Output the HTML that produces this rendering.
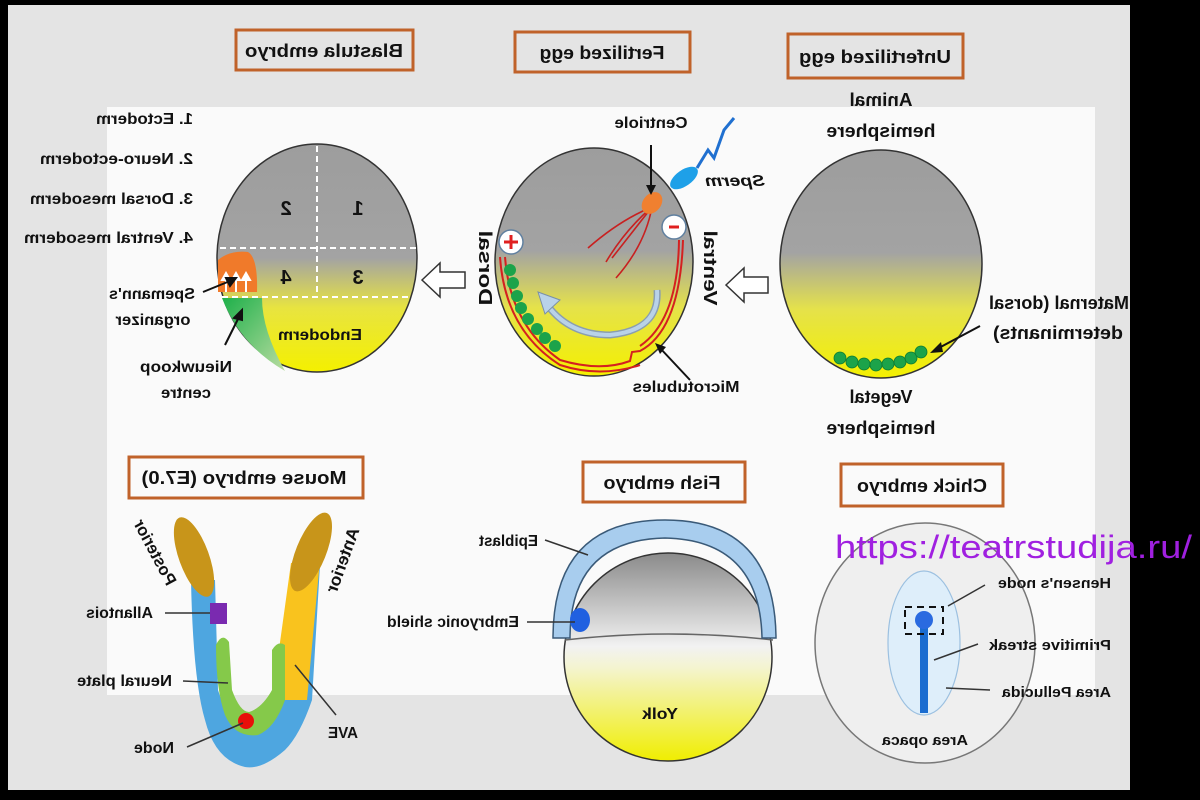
<!DOCTYPE html>
<html><head><meta charset="utf-8"><style>
html,body{margin:0;padding:0;background:#000;}
svg{display:block;}
text{font-family:"Liberation Sans",sans-serif;fill:#111;font-weight:bold;}
</style></head><body>
<svg width="1200" height="800" viewBox="0 0 1200 800" xmlns="http://www.w3.org/2000/svg">
<defs>
<linearGradient id="gy" x1="0" y1="0" x2="0" y2="1">
<stop offset="0" stop-color="#9d9d9d"/><stop offset="0.5" stop-color="#a3a3a3"/><stop offset="0.72" stop-color="#e8e440"/><stop offset="1" stop-color="#f4f000"/>
</linearGradient>
<linearGradient id="gy2" x1="0" y1="0" x2="0" y2="1">
<stop offset="0" stop-color="#9d9d9d"/><stop offset="0.45" stop-color="#a3a3a3"/><stop offset="0.7" stop-color="#e5e24a"/><stop offset="1" stop-color="#f4f000"/>
</linearGradient>
<linearGradient id="gf" x1="0" y1="0" x2="0" y2="1">
<stop offset="0" stop-color="#8a8a8a"/><stop offset="0.45" stop-color="#f2f2f2"/><stop offset="0.55" stop-color="#f4f4d0"/><stop offset="1" stop-color="#f0ee00"/>
</linearGradient>
<linearGradient id="gn" x1="0" y1="0" x2="1" y2="1">
<stop offset="0" stop-color="#1eb04a"/><stop offset="1" stop-color="#b8dca0"/>
</linearGradient>
</defs>
<rect width="1200" height="800" fill="#000"/>
<rect x="8" y="5" width="1122" height="785" fill="#e4e4e4"/>
<rect x="107" y="107" width="988" height="588" fill="#fafafa"/>

<!-- title boxes -->
<g fill="none" stroke="#c0622a" stroke-width="3">
<rect x="236" y="30" width="177" height="40"/>
<rect x="515" y="32" width="175" height="40"/>
<rect x="788" y="34" width="175" height="44"/>
<rect x="129" y="457" width="234" height="41"/>
<rect x="583" y="462" width="162" height="40"/>
<rect x="841" y="464" width="162" height="42"/>
</g>
<g font-size="18" text-anchor="middle">
<text transform="translate(324,57) scale(-1,1)" textLength="158" lengthAdjust="spacingAndGlyphs">Blastula embryo</text>
<text transform="translate(602,59) scale(-1,1)" textLength="125" lengthAdjust="spacingAndGlyphs">Fertilized egg</text>
<text transform="translate(875,63) scale(-1,1)" textLength="152" lengthAdjust="spacingAndGlyphs">Unfertilized egg</text>
<text transform="translate(244,484) scale(-1,1)" textLength="205" lengthAdjust="spacingAndGlyphs">Mouse embryo (E7.0)</text>
<text transform="translate(662,489) scale(-1,1)" textLength="117" lengthAdjust="spacingAndGlyphs">Fish embryo</text>
<text transform="translate(922,492) scale(-1,1)" textLength="130" lengthAdjust="spacingAndGlyphs">Chick embryo</text>
</g>

<!-- Blastula -->
<g font-size="16">
<text transform="translate(193,124) scale(-1,1)" textLength="97" lengthAdjust="spacingAndGlyphs">1. Ectoderm</text>
<text transform="translate(193,164) scale(-1,1)" textLength="153" lengthAdjust="spacingAndGlyphs">2. Neuro-ectoderm</text>
<text transform="translate(193,204) scale(-1,1)" textLength="163" lengthAdjust="spacingAndGlyphs">3. Dorsal mesoderm</text>
<text transform="translate(193,243) scale(-1,1)" textLength="169" lengthAdjust="spacingAndGlyphs">4. Ventral mesoderm</text>
</g>
<ellipse cx="317" cy="258" rx="100" ry="114" fill="url(#gy)" stroke="#333" stroke-width="1.5"/>
<path d="M222,298 Q240,345 285,371 Q262,330 262,298 Z" fill="url(#gn)"/>
<path d="M218,292 L218,260 Q230,250 248,252 Q258,258 257,292 Z" fill="#f07a2a"/>
<g stroke="#fff" stroke-width="2" fill="#fff">
<line x1="226" y1="292" x2="226" y2="278"/><line x1="236" y1="292" x2="236" y2="278"/><line x1="246" y1="292" x2="246" y2="278"/>
<path d="M222,280 L226,273 L230,280Z M232,280 L236,273 L240,280Z M242,280 L246,273 L250,280Z"/>
</g>
<g stroke="#fff" stroke-width="2" stroke-dasharray="6,4" fill="none">
<line x1="317" y1="146" x2="317" y2="295"/>
<line x1="220" y1="248" x2="416" y2="248"/>
<line x1="222" y1="297" x2="412" y2="297"/>
</g>
<g font-size="20" text-anchor="middle">
<text transform="translate(358,215) scale(-1,1)">1</text>
<text transform="translate(286,215) scale(-1,1)">2</text>
<text transform="translate(358,284) scale(-1,1)">3</text>
<text transform="translate(286,284) scale(-1,1)">4</text>
</g>
<g font-size="16" text-anchor="middle">
<text transform="translate(320,340) scale(-1,1)" textLength="84" lengthAdjust="spacingAndGlyphs">Endoderm</text>
<text transform="translate(152,299) scale(-1,1)" textLength="86" lengthAdjust="spacingAndGlyphs">Spemann's</text>
<text transform="translate(153,325) scale(-1,1)" textLength="75" lengthAdjust="spacingAndGlyphs">organizer</text>
<text transform="translate(186,372) scale(-1,1)" textLength="92" lengthAdjust="spacingAndGlyphs">Nieuwkoop</text>
<text transform="translate(186,398) scale(-1,1)" textLength="50" lengthAdjust="spacingAndGlyphs">centre</text>
</g>
<g stroke="#111" stroke-width="2" fill="#111">
<line x1="203" y1="292" x2="230" y2="281"/><path d="M236,278 L226,278 L230,286Z"/>
<line x1="225" y1="345" x2="240" y2="315"/><path d="M242,310 L234,318 L242,320Z"/>
</g>
<!-- hollow arrows -->
<path d="M422,280 L440,263 L440,272 L465,272 L465,288 L440,288 L440,297Z" fill="#fff" stroke="#333" stroke-width="1.5"/>
<path d="M726,285 L744,268 L744,277 L768,277 L768,293 L744,293 L744,302Z" fill="#fff" stroke="#333" stroke-width="1.5"/>

<!-- Fertilized egg -->
<ellipse cx="594" cy="262" rx="99" ry="114" fill="url(#gy2)" stroke="#333" stroke-width="1.5"/>
<path d="M500,257 Q505,330 560,365 Q600,378 640,365" fill="none" stroke="#d42020" stroke-width="2"/>
<path d="M505,257 Q510,325 560,360 Q600,372 630,361 L632,352 L640,351 Q680,330 683,240" fill="none" stroke="#d42020" stroke-width="2"/>
<path d="M679,240 Q678,320 640,346" fill="none" stroke="#d42020" stroke-width="2"/>
<g fill="#1ca34a">
<circle cx="510" cy="270" r="6"/><circle cx="513" cy="283" r="6"/><circle cx="517" cy="296" r="6"/><circle cx="521" cy="308" r="6"/><circle cx="528" cy="319" r="6"/><circle cx="537" cy="329" r="6"/><circle cx="545" cy="338" r="6"/><circle cx="555" cy="346" r="6"/>
</g>
<path d="M657,290 Q660,330 610,335 Q570,335 548,306" fill="none" stroke="#8a9eb0" stroke-width="7"/>
<path d="M657,290 Q660,330 610,335 Q570,335 548,306" fill="none" stroke="#b9d2e8" stroke-width="4"/>
<path d="M538,292 L560,300 L545,314Z" fill="#b9d2e8" stroke="#7a90a8" stroke-width="1"/>
<g fill="none" stroke="#c82020" stroke-width="1.6">
<path d="M652,207 Q620,220 588,248"/><path d="M652,207 Q625,230 606,262"/><path d="M652,207 Q630,235 612,258"/><path d="M652,207 Q645,245 616,278"/>
</g>
<ellipse cx="652" cy="203" rx="9" ry="12" transform="rotate(40 652 203)" fill="#f08030"/>
<circle cx="511" cy="242" r="12" fill="#fff" stroke="#6080a0" stroke-width="1.5"/>
<path d="M504,242 H518 M511,235 V249" stroke="#e02020" stroke-width="3"/>
<circle cx="674" cy="227" r="12" fill="#fff" stroke="#6080a0" stroke-width="1.5"/>
<path d="M669,227 H679" stroke="#e02020" stroke-width="3"/>
<ellipse cx="684" cy="178" rx="16" ry="8" transform="rotate(-35 684 178)" fill="#1ea0e8"/>
<path d="M697,168 L708,150 L714,158 L724,130 L734,118" fill="none" stroke="#2070d0" stroke-width="3"/>
<line x1="651" y1="145" x2="651" y2="188" stroke="#111" stroke-width="2"/><path d="M646,185 L651,195 L656,185Z" fill="#111"/>
<line x1="690" y1="380" x2="660" y2="348" stroke="#111" stroke-width="2"/><path d="M655,343 L666,347 L660,354Z" fill="#111"/>
<g font-size="16" text-anchor="middle">
<text transform="translate(651,128) scale(-1,1)" textLength="73" lengthAdjust="spacingAndGlyphs">Centriole</text>
<text transform="translate(735,186) scale(-1,1)" font-style="italic" textLength="60" lengthAdjust="spacingAndGlyphs">Sperm</text>
<text transform="translate(686,392) scale(-1,1)" textLength="107" lengthAdjust="spacingAndGlyphs">Microtubules</text>
<text transform="translate(479,268) rotate(90) scale(-1,1)" font-size="18" textLength="75" lengthAdjust="spacingAndGlyphs">Dorsal</text>
<text transform="translate(704,268) rotate(90) scale(-1,1)" font-size="18" textLength="75" lengthAdjust="spacingAndGlyphs">Ventral</text>
</g>

<!-- Unfertilized egg -->
<ellipse cx="881" cy="264" rx="101" ry="114" fill="url(#gy2)" stroke="#333" stroke-width="1.5"/>
<g fill="#1ca34a" stroke="#0d7a30" stroke-width="0.8">
<circle cx="840" cy="358" r="6"/><circle cx="852" cy="362" r="6"/><circle cx="864" cy="364" r="6"/><circle cx="876" cy="365" r="6"/><circle cx="888" cy="364" r="6"/><circle cx="900" cy="362" r="6"/><circle cx="911" cy="358" r="6"/><circle cx="921" cy="352" r="6"/>
</g>
<line x1="980" y1="326" x2="935" y2="350" stroke="#111" stroke-width="2"/><path d="M930,353 L941,342 L943,352Z" fill="#111"/>
<g font-size="18" text-anchor="middle">
<text transform="translate(881,106) scale(-1,1)" textLength="63" lengthAdjust="spacingAndGlyphs">Animal</text>
<text transform="translate(881,137) scale(-1,1)" textLength="109" lengthAdjust="spacingAndGlyphs">hemisphere</text>
<text transform="translate(1059,309) scale(-1,1)" textLength="140" lengthAdjust="spacingAndGlyphs">Maternal (dorsal</text>
<text transform="translate(1058,339) scale(-1,1)" textLength="130" lengthAdjust="spacingAndGlyphs">determinants)</text>
<text transform="translate(881,403) scale(-1,1)" textLength="63" lengthAdjust="spacingAndGlyphs">Vegetal</text>
<text transform="translate(881,434) scale(-1,1)" textLength="109" lengthAdjust="spacingAndGlyphs">hemisphere</text>
</g>

<!-- Mouse embryo -->
<path d="M191,580 L215,580 L218,690 Q228,722 247,724 Q265,718 272,700 L272,690 L289,690 L293,575 L320,565 L312,700 Q300,735 285,750 Q262,770 245,767 Q215,760 205,720 Q193,680 191,580Z" fill="#4ea6e0"/>
<path d="M291,563 L320,560 L307,700 L272,700 Z" fill="#f9c31e"/>
<path d="M216,645 Q222,632 229,642 L232,690 Q240,712 249,712 Q262,708 272,690 L272,650 Q278,640 285,645 L285,700 Q275,728 258,735 Q235,738 225,715 Q216,690 216,645Z" fill="#85c94a"/>
<ellipse cx="194" cy="557" rx="15" ry="42" transform="rotate(-20 194 557)" fill="#c8951a"/>
<ellipse cx="311" cy="552" rx="15" ry="42" transform="rotate(22 311 552)" fill="#c8951a"/>
<rect x="210" y="603" width="17" height="21" fill="#7a2ab0"/>
<circle cx="246" cy="721" r="8" fill="#e8100a"/>
<g stroke="#333" stroke-width="1.5">
<line x1="165" y1="613" x2="210" y2="613"/>
<line x1="183" y1="681" x2="228" y2="683"/>
<line x1="187" y1="747" x2="243" y2="723"/>
<line x1="336" y1="715" x2="295" y2="665"/>
</g>
<g font-size="16">
<text transform="translate(153,618) scale(-1,1)" textLength="67" lengthAdjust="spacingAndGlyphs">Allantois</text>
<text transform="translate(172,686) scale(-1,1)" textLength="95" lengthAdjust="spacingAndGlyphs">Neural plate</text>
<text transform="translate(174,753) scale(-1,1)" textLength="40" lengthAdjust="spacingAndGlyphs">Node</text>
<text transform="translate(358,738) scale(-1,1)" textLength="30" lengthAdjust="spacingAndGlyphs">AVE</text>
</g>
<g font-size="17" text-anchor="middle">
<text transform="translate(150,555) rotate(62) scale(-1,1)" textLength="72" lengthAdjust="spacingAndGlyphs">Posterior</text>
<text transform="translate(348,562) rotate(-70) scale(-1,1)" textLength="68" lengthAdjust="spacingAndGlyphs">Anterior</text>
</g>

<!-- Fish embryo -->
<circle cx="668" cy="657" r="104" fill="url(#gf)" stroke="#333" stroke-width="1.5"/>
<path d="M565,640 Q668,628 773,640" fill="none" stroke="#666" stroke-width="1.5"/>
<path d="M553,638 Q553,520 665,520 Q775,520 776,638 L762,638 Q760,540 665,538 Q570,540 570,638Z" fill="#a8cdee" stroke="#3a5a78" stroke-width="1.5"/>
<ellipse cx="580" cy="620" rx="10" ry="12" fill="#2060e0"/>
<g stroke="#333" stroke-width="1.5"><line x1="545" y1="540" x2="588" y2="555"/><line x1="527" y1="622" x2="575" y2="622"/></g>
<g font-size="16">
<text transform="translate(538,546) scale(-1,1)" textLength="59" lengthAdjust="spacingAndGlyphs">Epiblast</text>
<text transform="translate(519,627) scale(-1,1)" textLength="132" lengthAdjust="spacingAndGlyphs">Embryonic shield</text>
<text transform="translate(678,719) scale(-1,1)" textLength="36" lengthAdjust="spacingAndGlyphs">Yolk</text>
</g>

<!-- Chick embryo -->
<ellipse cx="925" cy="643" rx="110" ry="120" fill="#efefef" stroke="#777" stroke-width="1.5"/>
<ellipse cx="924" cy="643" rx="36" ry="72" fill="#deeefa" stroke="#9cc0e0" stroke-width="1.2"/>
<rect x="920" y="620" width="8" height="93" fill="#1a6cd0"/>
<circle cx="924" cy="620" r="9" fill="#2a6ae0"/>
<rect x="905" y="607" width="38" height="27" fill="none" stroke="#111" stroke-width="2" stroke-dasharray="7,5"/>
<g stroke="#333" stroke-width="1.5"><line x1="985" y1="585" x2="948" y2="606"/><line x1="978" y1="644" x2="934" y2="660"/><line x1="990" y1="690" x2="946" y2="688"/></g>
<g font-size="15">
<text transform="translate(1111,588) scale(-1,1)" textLength="113" lengthAdjust="spacingAndGlyphs">Hensen's node</text>
<text transform="translate(1111,650) scale(-1,1)" textLength="122" lengthAdjust="spacingAndGlyphs">Primitive streak</text>
<text transform="translate(1111,697) scale(-1,1)" textLength="109" lengthAdjust="spacingAndGlyphs">Area Pellucida</text>
<text transform="translate(968,745) scale(-1,1)" textLength="86" lengthAdjust="spacingAndGlyphs">Area opaca</text>
</g>
<text x="835" y="558" font-family="'DejaVu Sans',sans-serif" font-size="32" style="fill:#a020e0;font-weight:normal" textLength="357" lengthAdjust="spacingAndGlyphs">https://teatrstudija.ru/</text>
</svg>
</body></html>
